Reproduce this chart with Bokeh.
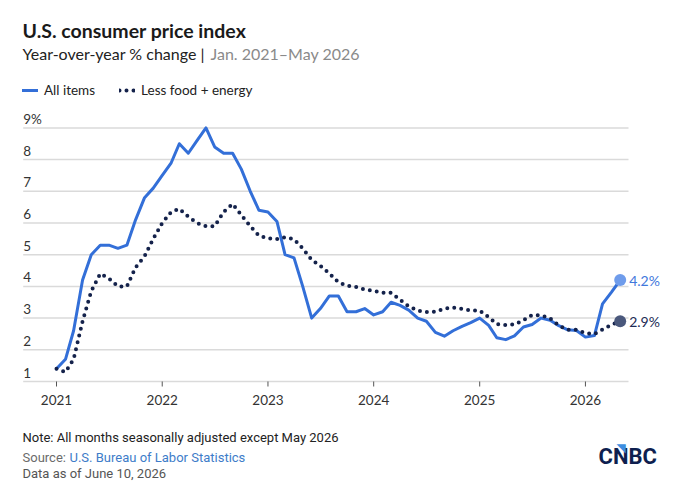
import math
import pandas as pd
from bokeh.plotting import figure
from bokeh.models import Range1d, Label, Legend, LegendItem, ColumnDataSource
from bokeh.embed import file_html
from bokeh.resources import INLINE
from bokeh.core.properties import value

# ---------------- data ----------------
months = pd.date_range("2021-01-01", "2026-05-01", freq="MS")

all_items = [
    1.4, 1.7, 2.6, 4.2, 5.0, 5.3, 5.3, 5.2, 5.3, 6.1, 6.8, 7.1,      # 2021
    7.5, 7.9, 8.5, 8.2, 8.6, 9.0, 8.4, 8.2, 8.2, 7.7, 7.0, 6.4,      # 2022
    6.35, 6.05, 5.0, 4.9, 4.0, 3.0, 3.3, 3.7, 3.7, 3.2, 3.2, 3.3,    # 2023
    3.1, 3.2, 3.5, 3.4, 3.25, 3.0, 2.9, 2.55, 2.43, 2.6, 2.74, 2.86, # 2024
    3.0, 2.77, 2.38, 2.32, 2.44, 2.72, 2.8, 3.0, 2.93, 2.76, 2.63, 2.61,  # 2025
    2.4, 2.45, 3.45, 3.82, 4.2,                                      # 2026
]
core = [
    1.4, 1.3, 1.7, 2.9, 3.85, 4.4, 4.25, 4.0, 4.0, 4.6, 4.95, 5.5,
    6.0, 6.35, 6.45, 6.2, 6.0, 5.9, 5.9, 6.35, 6.6, 6.25, 5.9, 5.6,
    5.52, 5.49, 5.55, 5.49, 5.2, 4.84, 4.65, 4.41, 4.13, 4.02, 3.98, 3.9,
    3.86, 3.8, 3.8, 3.58, 3.37, 3.24, 3.19, 3.2, 3.3, 3.33, 3.29, 3.24,
    3.24, 3.03, 2.81, 2.78, 2.8, 2.93, 3.1, 3.09, 2.99, 2.77, 2.63, 2.63,
    2.53, 2.5, 2.64, 2.79, 2.9,
]
series_names = ["All items", "Less food + energy"]
y_ticks = [1, 2, 3, 4, 5, 6, 7, 8, 9]
y_tick_labels = ["1", "2", "3", "4", "5", "6", "7", "8", "9%"]
x_tick_years = [2021, 2022, 2023, 2024, 2025, 2026]
x_tick_labels = [str(y) for y in x_tick_years]

title = "U.S. consumer price index"
subtitle_a = "Year-over-year % change |"
subtitle_b = "Jan. 2021\u2013May 2026"
note = "Note: All months seasonally adjusted except May 2026"
source_a = "Source:"
source_b = "U.S. Bureau of Labor Statistics"
data_asof = "Data as of June 10, 2026"
logo = "CNBC"

# ---------------- style / layout ----------------
BLUE = "#336fd8"
BLUE_DOT = "#6f9ceb"
NAVY = "#14224b"
NAVY_DOT = "#4a587c"
GRID = "#dadada"
FONT = "Lato"
FOOT = "Roboto"

W, H = 680, 498
PX_PER_YEAR = 105.8      # horizontal scale
X0_PX = 56               # pixel of Jan 2021
PX_PER_UNIT = 31.7       # vertical scale
Y1_PX = 381              # pixel of the value-1 baseline
GRID_L, GRID_R = 22.7, 628


def ms(ts):
    return pd.Timestamp(ts).value / 1e6


YEAR_MS = 365.25 * 86400000
base = ms("2021-01-01")


def px_to_x(px):
    return base + (px - X0_PX) / PX_PER_YEAR * YEAR_MS


src = ColumnDataSource(dict(date=months, all=all_items, core=core))

p = figure(width=W, height=H, output_backend="svg", toolbar_location=None,
           x_axis_location=None, y_axis_location=None,
           x_range=Range1d(px_to_x(0), px_to_x(W)),
           y_range=Range1d(1 - (H - Y1_PX) / PX_PER_UNIT, 1 + Y1_PX / PX_PER_UNIT),
           min_border=0)
p.outline_line_color = None
p.background_fill_color = "white"
p.border_fill_color = "white"
p.xgrid.visible = False
p.ygrid.visible = False

# horizontal grid lines (value 1 acts as the baseline)
gl, gr = px_to_x(GRID_L), px_to_x(GRID_R)
p.segment(x0=[gl] * len(y_ticks), x1=[gr] * len(y_ticks), y0=y_ticks, y1=y_ticks,
          line_color=GRID, line_width=1.5)

# x ticks and labels
tick_x = [ms(f"{y}-01-01") for y in x_tick_years]
p.ray(x=tick_x, y=[y_ticks[0]] * len(tick_x), length=5, length_units="screen",
      angle=-math.pi / 2, line_color="#555555", line_width=1)
p.text(x=tick_x, y=[y_ticks[0]] * len(tick_x), text=x_tick_labels,
       text_font=value(FONT), text_font_size="13.5px", text_color="#333333",
       text_baseline="middle", text_align="center", y_offset=18)

# y tick labels drawn above the grid lines, left aligned
p.text(x=[gl] * len(y_ticks), y=y_ticks, text=y_tick_labels,
       text_font=value(FONT), text_font_size="13.5px", text_color="#333333",
       text_baseline="middle", text_align="left", y_offset=-9)

r_all = p.line(x="date", y="all", source=src, line_color=BLUE, line_width=3,
               line_join="round", line_cap="round")
r_core = p.line(x="date", y="core", source=src, line_color=NAVY, line_width=4,
                line_dash="0 7", line_cap="round", line_join="round")

# end markers and labels
p.scatter(x=[months[-1]], y=[all_items[-1]], size=12, fill_color=BLUE_DOT, line_color=None)
p.scatter(x=[months[-1]], y=[core[-1]], size=12, fill_color=NAVY_DOT, line_color=None)
p.add_layout(Label(x=ms(months[-1]), y=all_items[-1], x_offset=9, text=f"{all_items[-1]:.1f}%",
                   text_baseline="middle", text_color="#3f78dc", text_font=FONT,
                   text_font_size="14px"))
p.add_layout(Label(x=ms(months[-1]), y=core[-1], x_offset=9, text=f"{core[-1]:.1f}%",
                   text_baseline="middle", text_color="#1d2b55", text_font=FONT,
                   text_font_size="14px"))

# legend
leg = Legend(items=[LegendItem(label=series_names[0], renderers=[r_all]),
                    LegendItem(label=series_names[1], renderers=[r_core])],
             orientation="horizontal", location=(22, H - 98), padding=0, margin=0,
             spacing=24, glyph_width=16, glyph_height=16, label_standoff=6,
             border_line_color=None, background_fill_alpha=0,
             label_text_font=FONT, label_text_font_size="13.5px",
             label_text_color="#222222", label_height=16)
p.add_layout(leg)


def lab(x, y_mid, text, size, color, font=FONT, style="normal"):
    # y_mid: vertical centre of the text, measured from the top of the canvas
    p.add_layout(Label(x=x, y=H - y_mid, x_units="screen", y_units="screen", text=text,
                       text_font=font, text_font_size=size, text_color=color,
                       text_font_style=style, text_baseline="middle"))


lab(22, 30, title, "19.5px", "#1a1a1a", style="bold")
lab(22, 53, subtitle_a, "16px", "#222222")
lab(210, 53, subtitle_b, "16px", "#8a8a8a")
lab(22, 437, note, "13px", "#222222", font=FOOT)
lab(22, 457, source_a, "13px", "#6b6b6b", font=FOOT)
lab(69, 457, source_b, "13px", "#3d7cc9", font=FOOT)
lab(22, 472.5, data_asof, "13px", "#555555", font=FOOT)
lab(598, 455.5, logo, "22px", "#0e1f4f", font=FOOT, style="bold")
lab(616, 447, "\u25e5", "12px", "#3d8ee0", font="DejaVu Sans")

open("out.html", "w").write(file_html(p, INLINE))
